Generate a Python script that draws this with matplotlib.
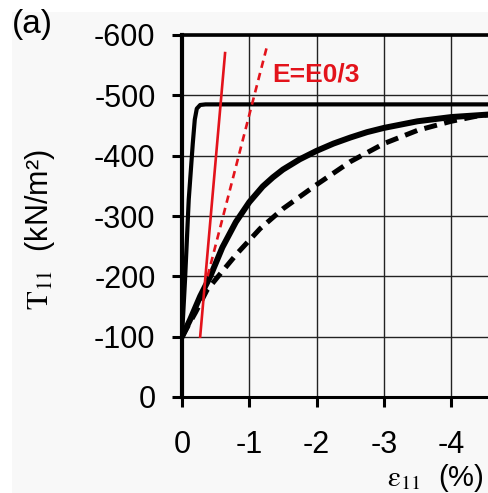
import matplotlib
matplotlib.use("Agg")
from matplotlib import pyplot as plt
from matplotlib.patches import Rectangle

plt.rcParams['font.family'] = ['Liberation Sans', 'DejaVu Sans']
plt.rcParams['mathtext.fontset'] = 'stix'
plt.rcParams['axes.unicode_minus'] = False

# elastic - perfectly plastic response
ep_strain = [0, -0.045, -0.10, -0.16, -0.19, -0.22, -0.27, -0.35, -4.8]
ep_stress = [-100, -194, -327, -420, -460, -478, -484, -485, -485]

# measured curve (thick solid)
solid_strain = [0, -0.12, -0.27, -0.42, -0.6, -0.8, -1.0, -1.2, -1.35, -1.5, -1.75, -2.0,
                -2.25, -2.5, -2.75, -3.0, -3.5, -4.0, -4.8]
solid_stress = [-100, -128, -167, -200, -248, -290, -323, -349, -364, -377, -394, -408,
                -420, -430, -439, -446, -457, -464, -470]

# computed curve (thick dashed)
dashed_strain = [0, -0.2, -0.37, -0.56, -0.82, -1.16, -1.5, -2.0, -2.5, -3.0, -3.5, -4.0, -4.4, -4.8]
dashed_stress = [-100, -140, -177, -203, -238, -279, -312, -352, -390, -420, -442, -457, -466, -471]

# initial stiffness E0 and E0/3 (red)
e0_strain = [-0.27, -0.64]
e0_stress = [-100, -570]
e3_strain = [-0.38, -1.26]
e3_stress = [-200, -580]

xticks = [0, -1, -2, -3, -4]
yticks = [0, -100, -200, -300, -400, -500, -600]

red = '#e3131b'
bg = '#f8f8f8'

fig = plt.figure(figsize=(4.89, 4.93), dpi=100, facecolor='white')
fig.patches.append(Rectangle((12 / 489, 0), 1, 1 - 12 / 493, transform=fig.transFigure,
                             facecolor=bg, edgecolor='none', zorder=-10))
ax = fig.add_axes([182 / 489, 1 - 397 / 493, 1 - 182 / 489, (397 - 35) / 493])
ax.set_facecolor(bg)

ax.plot(ep_strain, ep_stress, color='black', lw=3.0, solid_joinstyle='round', zorder=4)
ax.plot(solid_strain, solid_stress, color='black', lw=4.3, solid_capstyle='round',
        solid_joinstyle='round', zorder=5)
ax.plot(dashed_strain, dashed_stress, color='black', lw=3.6, dashes=(2.6, 1.5), zorder=5)
ax.plot(e0_strain, e0_stress, color=red, lw=1.9, zorder=6)
ax.plot(e3_strain, e3_stress, color=red, lw=1.9, dashes=(2.8, 2.0), zorder=6)
ax.text(-1.34, -534, 'E=E0/3', color=red, fontsize=19, fontweight='bold', va='center', ha='left')

ax.set_xlim(0, -(489 - 182) / 67.3)
ax.set_ylim(0, -600)
ax.set_xticks(xticks)
ax.set_yticks(yticks)
ax.set_xticklabels([str(v) for v in xticks])
ax.set_yticklabels([str(v) for v in yticks])
ax.grid(True, color='#222222', lw=1.0)
ax.set_axisbelow(True)
ax.tick_params(axis='both', direction='out', length=7, width=2.2, labelsize=22)
ax.tick_params(axis='y', pad=12)
ax.tick_params(axis='x', pad=17)

ax.spines['right'].set_visible(False)
ax.spines['left'].set_linewidth(3.0)
ax.spines['bottom'].set_linewidth(2.2)
ax.spines['top'].set_linewidth(2.6)

fig.text(40 / 489, 1 - 230 / 493, r'$\mathrm{T}_{11}$  (kN/m²)', rotation=90,
         fontsize=22, ha='center', va='center')
fig.text(484 / 489, 1 - 478 / 493, r'$\mathrm{ε}_{11}$  (%)', fontsize=21,
         ha='right', va='center')
fig.text(12 / 489, 1 - 25 / 493, '(a)', fontsize=24, ha='left', va='center')

fig.savefig('out.png', dpi=100, facecolor=fig.get_facecolor())
